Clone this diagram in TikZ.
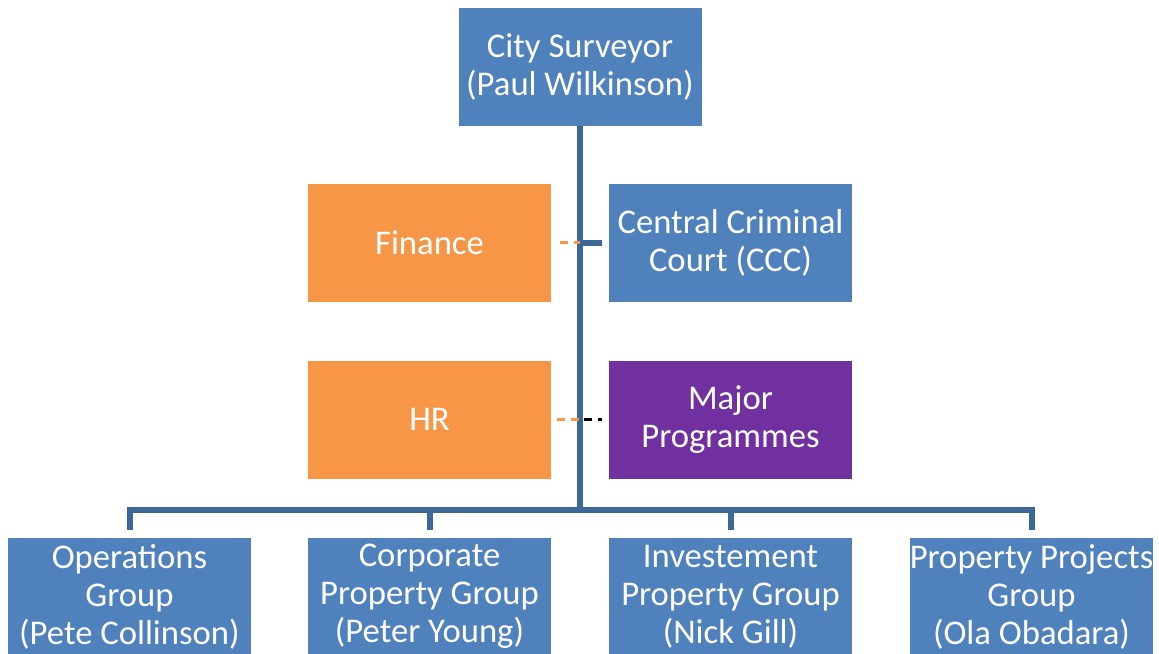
\documentclass[tikz,border=0pt]{standalone}
\usepackage{fontspec}
\setmainfont{Carlito}
\usetikzlibrary{calc}
\definecolor{boxblue}{RGB}{79,129,189}
\definecolor{linkblue}{RGB}{60,104,152}
\definecolor{boxorange}{RGB}{247,150,70}
\definecolor{boxpurple}{RGB}{112,48,160}
\tikzset{
  unit/.style={minimum width=183pt, minimum height=89.25pt, inner sep=0pt,
    align=center, text=white, font=\fontsize{26}{28.5}\selectfont, draw=white, line width=0.6pt},
  bluebox/.style={unit, fill=boxblue},
  orangebox/.style={unit, fill=boxorange},
  purplebox/.style={unit, fill=boxpurple},
  link/.style={draw=linkblue, line width=4.5pt},
  drop/.style={link, shorten >=5pt},
  dotlink/.style={line width=1.6pt, dash pattern=on 6pt off 4.5pt}
}
\begin{document}
\begin{tikzpicture}[x=0.75pt, y=-0.75pt]
\useasboundingbox (0,0) rectangle (1159,653);
% top of the hierarchy
\node[bluebox] (cs) at (580,66.5) {City Surveyor\\(Paul Wilkinson)};
% support and directly reporting units
\node[orangebox] (fin) at (429.5,242.5) {Finance};
\node[bluebox] (ccc) at (730.5,242.5) {Central Criminal\\Court (CCC)};
\node[orangebox] (hr) at (429.5,419.5) {HR};
\node[purplebox] (mp) at (730.5,419.5) {Major\\Programmes};
% groups
\node[bluebox] (og) at (129.5,596.5) {Operations\\Group\\(Pete Collinson)};
\node[bluebox] (cpg) at (429.5,596.5) {Corporate\\Property Group\\(Peter Young)};
\node[bluebox] (ipg) at (730.5,596.5) {Investement\\Property Group\\(Nick Gill)};
\node[bluebox] (ppg) at (1031.5,596.5) {Property Projects\\Group\\(Ola Obadara)};
% junctions on the trunk
\coordinate (finj) at (580,242.5);
\coordinate (hrj) at (580,419.5);
\coordinate (hub) at (580,510);
% trunk and branches
\draw[link] (cs.south) -- (hub);
\draw[link, shorten >=4.5pt] (finj) -- (ccc.west);
\draw[drop] (hub) -| (og.north);
\draw[drop] (hub) -| (cpg.north);
\draw[drop] (hub) -| (ipg.north);
\draw[drop] (hub) -| (ppg.north);
% dotted reporting lines
\draw[dotlink, draw=boxorange, shorten <=6pt] (fin.east) -- (finj);
\draw[dotlink, draw=boxorange, shorten <=3.5pt] (hr.east) -- (hrj);
\draw[dotlink, draw=black, shorten <=3pt, shorten >=4.5pt] (hrj) -- (mp.west);
\end{tikzpicture}
\end{document}
